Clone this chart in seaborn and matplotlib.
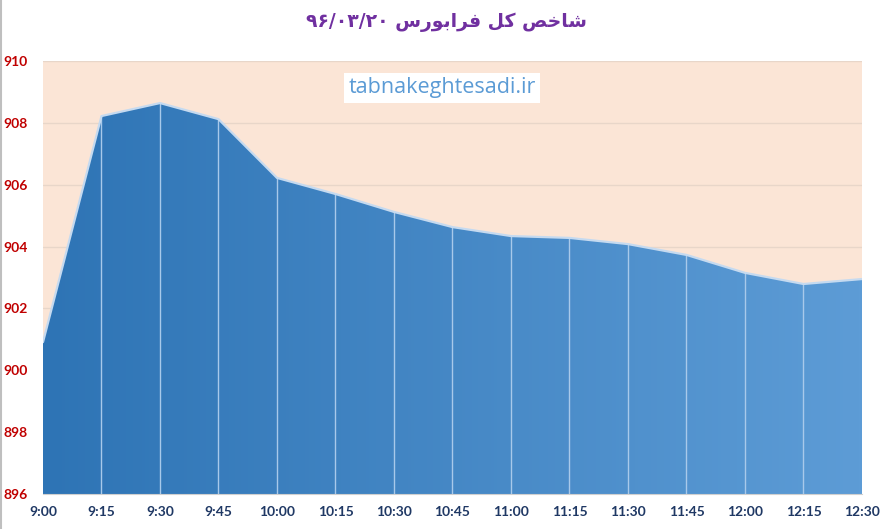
import matplotlib
matplotlib.use("Agg")
import matplotlib.pyplot as plt
import seaborn as sns
import pandas as pd
import numpy as np
from matplotlib.colors import LinearSegmentedColormap
from matplotlib.lines import Line2D

# data
times = ["9:00", "9:15", "9:30", "9:45", "10:00", "10:15", "10:30", "10:45",
         "11:00", "11:15", "11:30", "11:45", "12:00", "12:15", "12:30"]
index_values = [900.91, 908.22, 908.64, 908.12, 906.22, 905.70, 905.12, 904.63,
                904.34, 904.28, 904.08, 903.73, 903.15, 902.79, 902.95]
y_ticks = [896, 898, 900, 902, 904, 906, 908, 910]

# title already shaped (presentation forms, visual order) since matplotlib has no bidi
title_text = ("\u06F9\u06F6/\u06F0\u06F3/\u06F2\u06F0 "
              "\uFEB1\uFEAD\uFEEE\uFE91\uFE8D\uFEAE\uFED3 "
              "\uFEDE\uFB90 "
              "\uFEBA\uFEA7\uFE8E\uFEB7")
watermark = "tabnakeghtesadi.ir"

df = pd.DataFrame({"pos": range(len(times)), "time": times, "value": index_values})

sns.set_style("white")
plt.rcParams["font.family"] = ["Lato", "DejaVu Sans"]

fig = plt.figure(figsize=(8.87, 5.29), dpi=100)
ax = fig.add_axes([43 / 887, 35 / 529, 819 / 887, 433 / 529])
ax.set_facecolor("#FBE5D6")

ymin, ymax = y_ticks[0], y_ticks[-1]

# gradient area under the curve
poly = ax.fill_between(df["pos"], ymin, df["value"], color="none", lw=0)
cmap = LinearSegmentedColormap.from_list("blues", ["#2E74B5", "#5D9CD6"])
grad = np.linspace(0, 1, 256).reshape(1, -1)
img = ax.imshow(grad, extent=[0, len(times) - 1, ymin, ymax], aspect="auto",
                cmap=cmap, origin="lower", zorder=2)
img.set_clip_path(poly.get_paths()[0], transform=ax.transData)

# drop lines
ax.vlines(df["pos"][1:-1], ymin, df["value"][1:-1], color="#A8C9EA", lw=1, zorder=3)

# top edge
sns.lineplot(data=df, x="pos", y="value", color="#C5DAF0", lw=1.6, ax=ax, zorder=4)

ax.set_xlim(0, len(times) - 1)
ax.set_ylim(ymin, ymax)
ax.set_yticks(y_ticks)
ax.set_yticklabels([str(v) for v in y_ticks])
ax.set_xticks(df["pos"])
ax.set_xticklabels(times)
ax.grid(axis="y", color="#E8D6C9", lw=1)
ax.set_axisbelow(True)
ax.set_xlabel("")
ax.set_ylabel("")
for side in ["top", "right", "left"]:
    ax.spines[side].set_visible(False)
ax.spines["bottom"].set_color("#D0D0D0")
ax.spines["bottom"].set_zorder(5)
ax.tick_params(axis="both", length=0)
ax.tick_params(axis="x", pad=9)
ax.tick_params(axis="y", pad=11)
for lbl in ax.get_xticklabels():
    lbl.set_fontweight("bold")
    lbl.set_color("#1F3864")
    lbl.set_fontsize(10)
for lbl in ax.get_yticklabels():
    lbl.set_fontweight("bold")
    lbl.set_color("#C00000")
    lbl.set_fontsize(10)

fig.text(446 / 887, 1 - 22 / 529, title_text, ha="center", va="center", fontsize=13.5,
         fontweight="bold", color="#7030A0", family=["DejaVu Sans"])

fig.text(442 / 887, 1 - 88 / 529, watermark, ha="center", va="center",
         fontsize=15.5, color="#5B9BD5", family=["Open Sans", "DejaVu Sans"],
         bbox=dict(facecolor="white", edgecolor="none", pad=3))

fig.add_artist(Line2D([0.0008, 0.0008], [0, 1], color="#BFBFBF", lw=1.5))

fig.savefig("out.png", dpi=100)
